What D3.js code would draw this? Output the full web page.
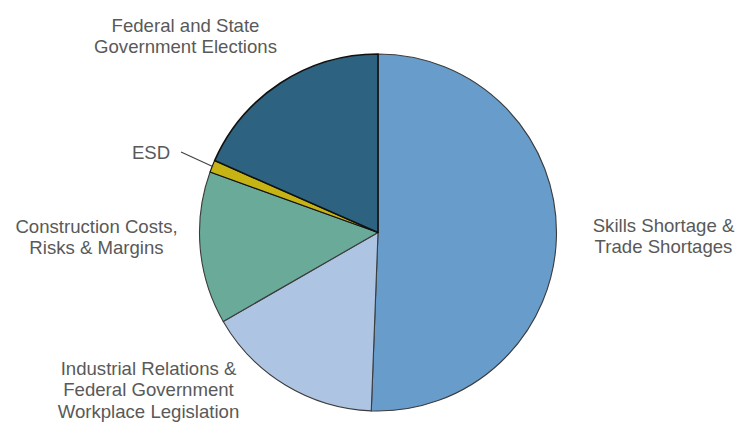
<!DOCTYPE html>
<html>
<head>
<meta charset="utf-8">
<script src="https://cdn.jsdelivr.net/npm/d3@7/dist/d3.min.js"></script>
<style>
  html, body { margin: 0; padding: 0; background: #fff; }
  svg { display: block; }
  text { font-family: "Liberation Sans", Arial, sans-serif; font-size: 18.6px; fill: #595959; }
</style>
</head>
<body>
<svg id="chart" width="747" height="440"></svg>
<script>
// Survey responses: main concern for the construction industry (share, %)
const categories = [
  "Skills Shortage & Trade Shortages",
  "Industrial Relations & Federal Government Workplace Legislation",
  "Construction Costs, Risks & Margins",
  "ESD",
  "Federal and State Government Elections"
];
const values = [50.6, 16.1, 13.8, 1.1, 18.4];
const colors = ["#689CCA", "#AEC4E3", "#69AA98", "#C6B415", "#2D6381"];

// Label text, one array entry per line
const labelLines = [
  ["Skills Shortage &", "Trade Shortages"],
  ["Industrial Relations &", "Federal Government", "Workplace Legislation"],
  ["Construction Costs,", "Risks & Margins"],
  ["ESD"],
  ["Federal and State", "Government Elections"]
];

const svg = d3.select("#chart");
const cx = 378, cy = 232.5, r = 178.5;

const pie = d3.pie().sort(null).value(d => d)(values);
const arc = d3.arc().innerRadius(0).outerRadius(r);

const g = svg.append("g").attr("transform", `translate(${cx},${cy})`);

g.selectAll("path.slice")
  .data(pie)
  .join("path")
  .attr("class", "slice")
  .attr("d", arc)
  .attr("fill", (d, i) => colors[i])
  .attr("stroke", (d, i) => (i === 3 || i === 4) ? "#111" : "#3c3c3c")
  .attr("stroke-width", (d, i) => i === 4 ? 1.6 : 1.1)
  .attr("stroke-linejoin", "round");

// Label anchor points (centre of first baseline), placed around the pie
const labelPos = [
  { x: 663.5, y: 232 },
  { x: 148.5, y: 375 },
  { x: 96.5, y: 232.5 },
  { x: 151, y: 159 },
  { x: 185.5, y: 32 }
];
const lineH = 21.3;

labelLines.forEach((lines, i) => {
  const t = svg.append("text")
    .attr("text-anchor", "middle")
    .attr("x", labelPos[i].x)
    .attr("y", labelPos[i].y);
  lines.forEach((ln, k) => {
    t.append("tspan")
      .attr("x", labelPos[i].x)
      .attr("y", labelPos[i].y + k * lineH)
      .text(ln);
  });
});

// Leader line for the small ESD slice
const esd = pie[3];
const mid = (esd.startAngle + esd.endAngle) / 2;
const ex = cx + Math.sin(mid) * (r - 1);
const ey = cy - Math.cos(mid) * (r - 1);
svg.append("line")
  .attr("x1", 181).attr("y1", 152)
  .attr("x2", ex).attr("y2", ey)
  .attr("stroke", "#404040")
  .attr("stroke-width", 1.1);
</script>
</body>
</html>
